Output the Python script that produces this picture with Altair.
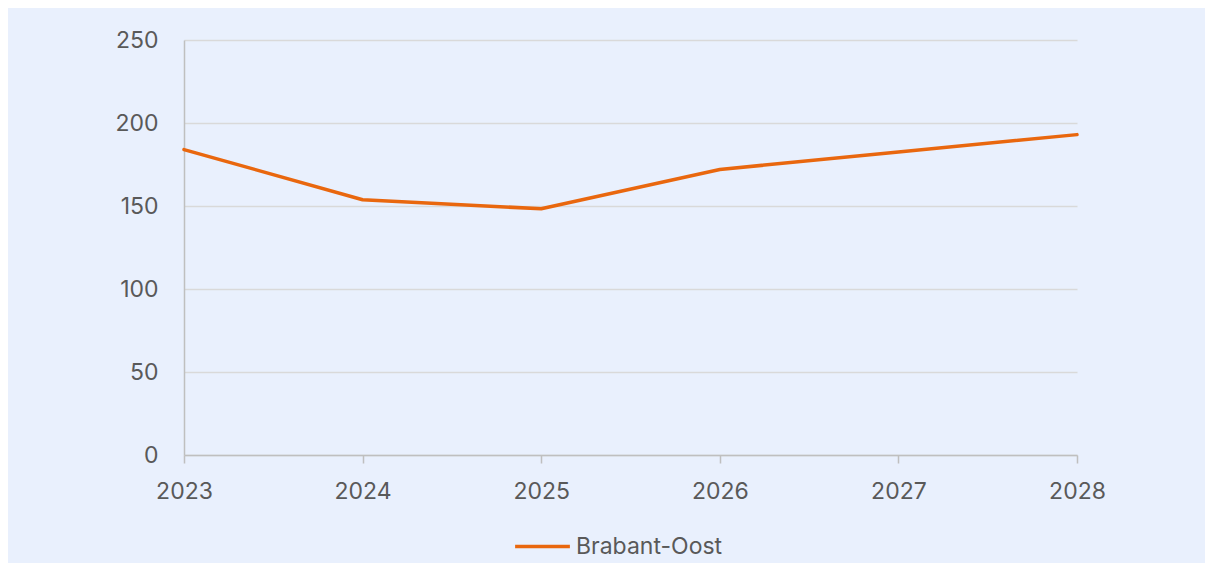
import altair as alt
import pandas as pd

years = [2023, 2024, 2025, 2026, 2027, 2028]
values = [184, 153.8, 148.3, 172, 182.6, 193]
series = ["Brabant-Oost"] * len(years)

df = pd.DataFrame({"Jaar": years, "Waarde": values, "Regio": series})

FONT = "Inter"
TXT = "#595959"

chart = alt.Chart(df).mark_line(strokeWidth=3.5, strokeCap="round", strokeJoin="round").encode(
    x=alt.X("Jaar:Q",
            scale=alt.Scale(domain=[2023, 2028], nice=False, zero=False),
            axis=alt.Axis(values=years, format="d", title=None, grid=False,
                          tickSize=8, tickColor="#BFBFBF", tickWidth=1.5,
                          domainColor="#BFBFBF", domainWidth=1.5,
                          labelFont=FONT, labelFontSize=23, labelColor=TXT,
                          labelFlush=False, labelPadding=17)),
    y=alt.Y("Waarde:Q",
            scale=alt.Scale(domain=[0, 250], nice=False),
            axis=alt.Axis(values=[0, 50, 100, 150, 200, 250], title=None,
                          ticks=False, grid=True, gridColor="#D9D9D9", gridWidth=1.5,
                          domainColor="#BFBFBF", domainWidth=1.5,
                          labelFont=FONT, labelFontSize=23, labelColor=TXT,
                          labelPadding=26)),
    color=alt.Color("Regio:N",
                    scale=alt.Scale(domain=["Brabant-Oost"], range=["#E9670E"]),
                    legend=alt.Legend(title=None, orient="none", direction="horizontal",
                                      legendX=329, legendY=477,
                                      symbolType="stroke", symbolSize=3000,
                                      symbolStrokeWidth=3.5,
                                      labelFont=FONT, labelFontSize=23, labelColor=TXT,
                                      labelOffset=4)),
).properties(
    width=893,
    height=415,
    background="#E9F0FD",
    padding={"left": 176, "top": 32, "right": 128, "bottom": 108},
    autosize=alt.AutoSizeParams(type="none"),
).configure_view(stroke=None)

chart.save("out.html", embed_options={"renderer": "svg", "actions": False})
